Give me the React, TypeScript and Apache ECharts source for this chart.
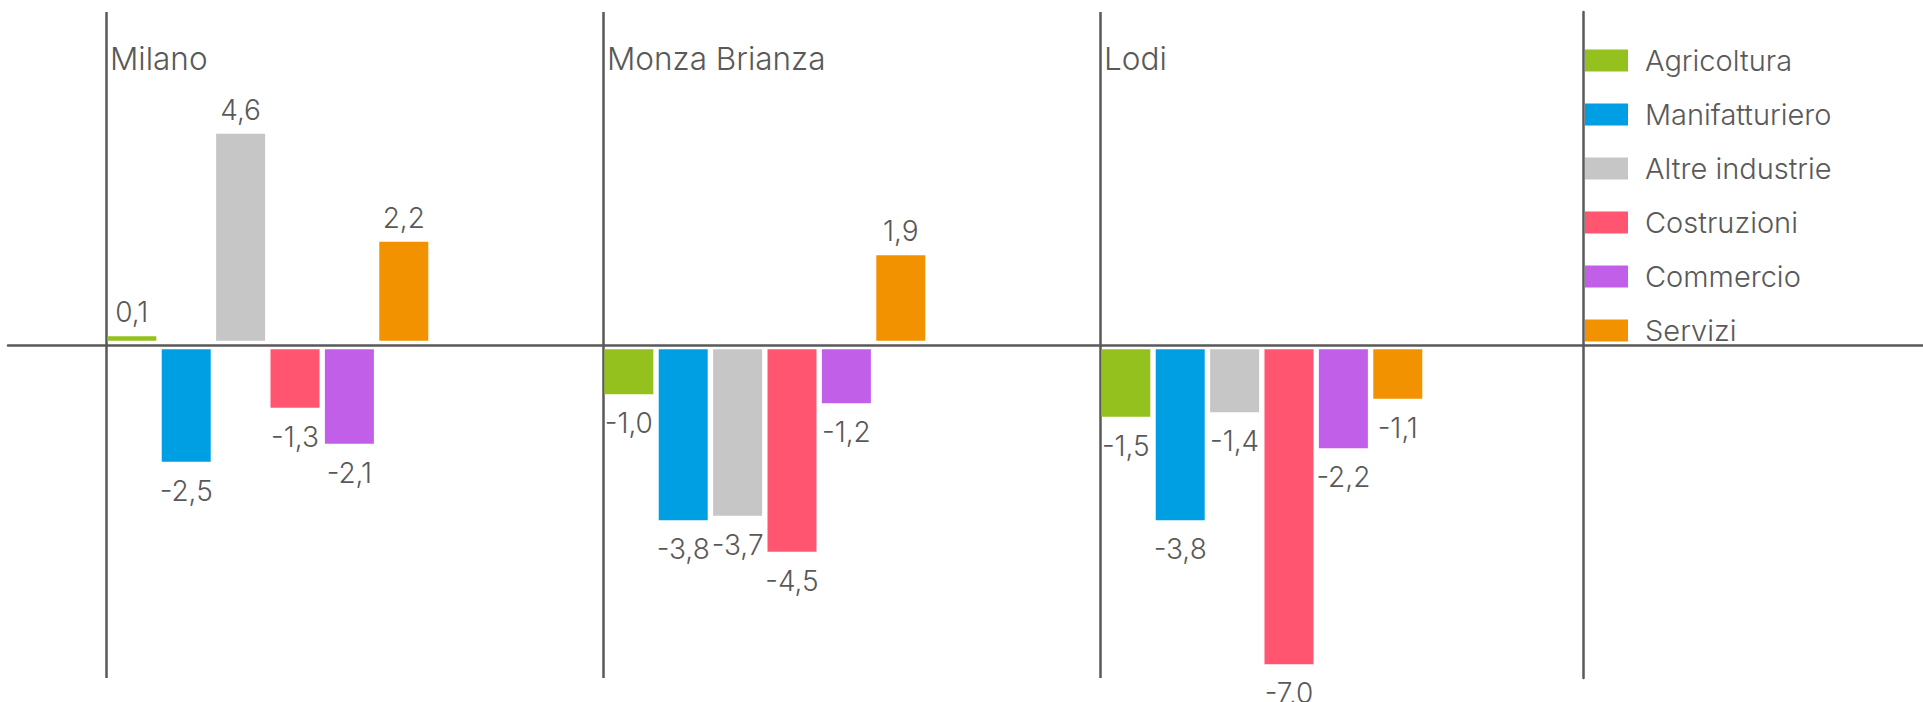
import React, { useEffect, useRef } from "react";
import * as echarts from "echarts";

// ---- data ----
const categories = ["Milano", "Monza Brianza", "Lodi"];
const sectors = ["Agricoltura", "Manifatturiero", "Altre industrie", "Costruzioni", "Commercio", "Servizi"];
const agricoltura = [0.1, -1.0, -1.5];
const manifatturiero = [-2.5, -3.8, -3.8];
const altreIndustrie = [4.6, -3.7, -1.4];
const costruzioni = [-1.3, -4.5, -7.0];
const commercio = [-2.1, -1.2, -2.2];
const servizi = [2.2, 1.9, -1.1];
const sectorValues = [agricoltura, manifatturiero, altreIndustrie, costruzioni, commercio, servizi];

// ---- style ----
const colors = ["#95C11F", "#009FE3", "#C6C6C6", "#FF5571", "#C15FE8", "#F39200"];
const LINE = "#595959";
const TEXT = "#595959";
const FONT = "Inter, 'Noto Sans', sans-serif";
const Y_MIN = -7.4;
const Y_MAX = 7.4;
const AXIS_GAP = 0.095; // white gap between bars and the zero line

const fmt = (v: number) => v.toFixed(1).replace(".", ",");

export default function App() {
  const ref = useRef<HTMLDivElement>(null);

  useEffect(() => {
    if (!ref.current) return;
    const chart = echarts.init(ref.current, undefined, { renderer: "svg" });

    const series: any[] = [];
    sectors.forEach((name, i) => {
      const vals = sectorValues[i];
      series.push({
        type: "bar",
        name: name + " base",
        stack: "s" + i,
        xAxisIndex: 0,
        yAxisIndex: 0,
        barWidth: 49,
        barGap: "11%",
        silent: true,
        itemStyle: { color: "rgba(0,0,0,0)" },
        label: { show: false },
        data: vals.map((v) => (v >= 0 ? AXIS_GAP : -AXIS_GAP)),
      });
      series.push({
        type: "bar",
        name,
        stack: "s" + i,
        xAxisIndex: 0,
        yAxisIndex: 0,
        barWidth: 49,
        barGap: "11%",
        itemStyle: { color: colors[i] },
        label: {
          show: true,
          fontFamily: FONT,
          fontWeight: 300,
          fontSize: 28,
          color: TEXT,
          formatter: (p: any) => fmt(p.value),
        },
        data: vals.map((v) => ({
          value: v,
          label: { position: v >= 0 ? "top" : "bottom", distance: v >= 0 ? 10 : 15 },
        })),
      });
    });
    // trailing empty slot: keeps each cluster at the left of its category
    series.push({
      type: "bar",
      name: "pad",
      stack: "pad",
      xAxisIndex: 0,
      yAxisIndex: 0,
      barWidth: 168,
      barGap: "11%",
      silent: true,
      data: categories.map(() => null),
    });

    chart.setOption({
      animation: false,
      backgroundColor: "#fff",
      grid: [
        { left: 106, top: 12, width: 1491, height: 666 },
        { left: 8, right: 0, top: 12, height: 666 },
      ],
      legend: {
        orient: "vertical",
        left: 1585,
        top: 46,
        padding: 0,
        icon: "rect",
        itemWidth: 43,
        itemHeight: 22,
        itemGap: 25,
        selectedMode: false,
        data: sectors,
        textStyle: {
          fontFamily: FONT,
          fontSize: 29,
          fontWeight: 300,
          color: TEXT,
          lineHeight: 29,
          padding: [0, 0, 0, 12],
        },
      },
      xAxis: [
        {
          gridIndex: 0,
          type: "category",
          data: categories,
          boundaryGap: true,
          axisLine: { show: false },
          axisTick: { show: false },
          axisLabel: { show: false },
          splitLine: { show: true, interval: 0, showMaxLine: false, lineStyle: { color: LINE, width: 2.5 } },
        },
        {
          gridIndex: 1,
          type: "value",
          min: 0,
          max: 1,
          axisLine: { show: true, onZero: true, lineStyle: { color: LINE, width: 2.5 } },
          axisTick: { show: false },
          axisLabel: { show: false },
          splitLine: { show: false },
        },
        {
          gridIndex: 0,
          type: "category",
          position: "top",
          data: [...categories, ""],
          boundaryGap: false,
          axisLine: { show: false },
          axisTick: { show: false },
          splitLine: { show: false },
          axisLabel: {
            show: true,
            inside: true,
            interval: 0,
            align: "left",
            verticalAlign: "top",
            margin: 30,
            padding: [0, 0, 0, 4],
            fontFamily: FONT,
            fontWeight: 300,
            fontSize: 31.5,
            color: TEXT,
          },
        },
      ],
      yAxis: [
        {
          gridIndex: 0,
          type: "value",
          min: Y_MIN,
          max: Y_MAX,
          position: "right",
          offset: -14,
          axisLine: { show: true, onZero: false, lineStyle: { color: LINE, width: 2.5 } },
          axisTick: { show: false },
          axisLabel: { show: false },
          splitLine: { show: false },
        },
        {
          gridIndex: 1,
          type: "value",
          min: Y_MIN,
          max: Y_MAX,
          axisLine: { show: false },
          axisTick: { show: false },
          axisLabel: { show: false },
          splitLine: { show: false },
        },
      ],
      series,
    });

    return () => chart.dispose();
  }, []);

  return (
    <div
      ref={ref}
      style={{ position: "absolute", left: 0, top: 0, width: 1923, height: 702 }}
    />
  );
}
